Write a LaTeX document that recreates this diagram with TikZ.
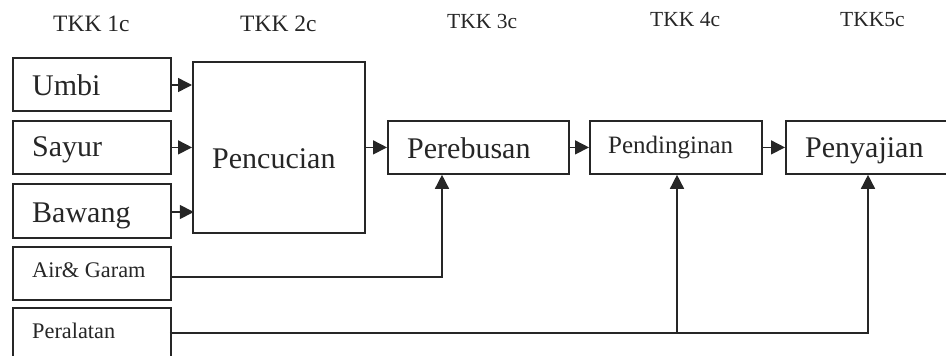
\documentclass[tikz,border=0pt]{standalone}
\usepackage{fontspec}
\setmainfont{Liberation Serif}
\usetikzlibrary{arrows.meta,calc}
\begin{document}
\begin{tikzpicture}[x=1pt,y=-1pt,
  box/.style={draw=black!85, line width=1.8pt, rectangle, inner sep=0pt, anchor=north west},
  conn/.style={draw=black!85, line width=1.5pt, -{Triangle[length=14pt,width=14pt]}},
  lbl/.style={anchor=base west, inner sep=0pt, text=black!85},
  fbig/.style={font=\fontsize{30}{36}\selectfont},
  fmid/.style={font=\fontsize{25}{30}\selectfont},
  fsmall/.style={font=\fontsize{22.3}{27}\selectfont},
  fhead/.style={font=\fontsize{23.5}{28}\selectfont},
  fheadb/.style={font=\fontsize{21.5}{26}\selectfont}]
\useasboundingbox (0,0) rectangle (946,356);
\clip (0,0) rectangle (946,356);
% headings
\node[lbl,fhead] (h1) at (53,31.7) {TKK 1c};
\node[lbl,fhead] (h2) at (240,31.7) {TKK 2c};
\node[lbl,fheadb] (h3) at (447,28) {TKK 3c};
\node[lbl,fheadb] (h4) at (650,26.7) {TKK 4c};
\node[lbl,fheadb] (h5) at (840,26.7) {TKK5c};
% boxes
\node[box, minimum width=158pt, minimum height=53pt] (um) at (12,57) {};
\node[box, minimum width=158pt, minimum height=53pt] (sy) at (12,120) {};
\node[box, minimum width=158pt, minimum height=54pt] (bw) at (12,183) {};
\node[box, minimum width=158pt, minimum height=53pt] (ag) at (12,246) {};
\node[box, minimum width=158pt, minimum height=53pt] (pl) at (12,307) {};
\node[box, minimum width=172pt, minimum height=171pt] (pc) at (192,61) {};
\node[box, minimum width=181pt, minimum height=53pt] (pb) at (387,120) {};
\node[box, minimum width=172pt, minimum height=53pt] (pd) at (589,120) {};
\node[box, minimum width=180pt, minimum height=53pt] (pj) at (785,120) {};
% texts
\node[lbl,fbig] (tum) at (32,95) {Umbi};
\node[lbl,fbig] (tsy) at (32,156) {Sayur};
\node[lbl,fbig] (tbw) at (32,222) {Bawang};
\node[lbl,fsmall] (tag) at (32,277) {Air\& Garam};
\node[lbl,fsmall] (tpl) at (32,338) {Peralatan};
\node[lbl,fbig] (tpc) at (212,168) {Pencucian};
\node[lbl,fbig] (tpb) at (407,158) {Perebusan};
\node[lbl,fmid] (tpd) at (608,153) {Pendinginan};
\node[lbl,fbig] (tpj) at (805,157) {Penyajian};
% connectors
\draw[conn] ($(um.north east)+(0,28)$) -- ($(pc.north west)+(0,24)$);
\draw[conn] (sy.east) -- (sy.east -| pc.west);
\draw[conn] ($(bw.north east)+(0,29)$) -- ($(bw.north east)+(22,29)$);
\draw[conn] (pc.east |- pb.west) -- (pb.west);
\draw[conn] (pb.east) -- (pd.west);
\draw[conn] (pd.east) -- (pj.west);
\coordinate (agout) at ($(ag.north east)+(0,31)$);
\coordinate (pbin) at ($(pb.south west)+(55,0)$);
\draw[conn] (agout) -| (pbin);
\coordinate (plout) at ($(pl.north east)+(-2,26)$);
\coordinate (pjin) at ($(pj.south west)+(83,0)$);
\coordinate (pdin) at ($(pd.south west)+(88,0)$);
\draw[conn] (plout) -| (pjin);
\draw[conn] (plout -| pdin) -- (pdin);
\end{tikzpicture}
\end{document}
